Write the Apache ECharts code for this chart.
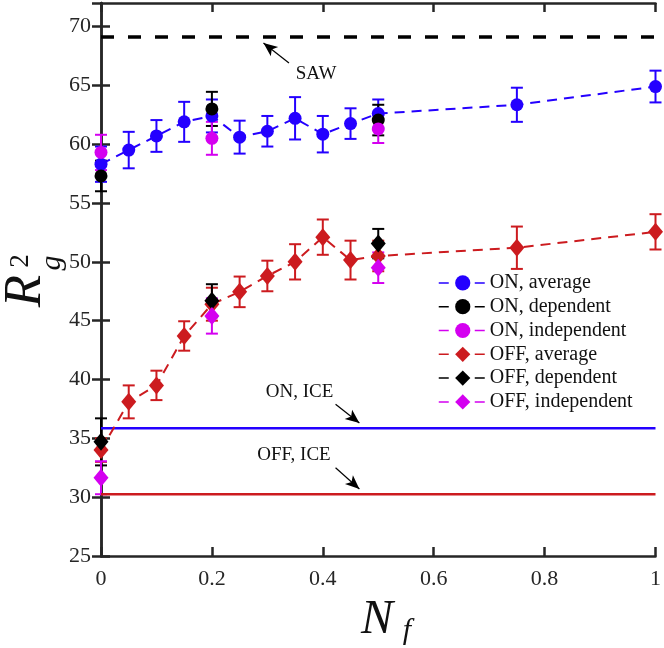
<!DOCTYPE html>
<html>
<head>
<meta charset="utf-8">
<script src="https://cdn.jsdelivr.net/npm/echarts@6/dist/echarts.min.js"></script>
<style>html,body{margin:0;padding:0;background:#fff}#c{width:664px;height:648px}</style>
</head>
<body>
<div id="c"></div>
<script>
// ---------- data ----------
const xAll = [0, 0.05, 0.1, 0.15, 0.2, 0.25, 0.3, 0.35, 0.4, 0.45, 0.5, 0.75, 1];
const xSub = [0, 0.2, 0.5];

const onAvg    = [58.3, 59.5, 60.7, 61.9, 62.4, 60.6, 61.1, 62.2, 60.85, 61.75, 62.6, 63.35, 64.9];
const onAvgErr = [1.5, 1.55, 1.35, 1.7, 1.4, 1.4, 1.3, 1.8, 1.55, 1.3, 1.2, 1.45, 1.35];
const onDep    = [57.3, 63.0, 62.05];
const onDepErr = [1.3, 1.45, 1.3];
const onInd    = [59.3, 60.5, 61.3];
const onIndErr = [1.5, 1.4, 1.2];

const offAvg    = [34.0, 38.1, 39.5, 43.7, 46.4, 47.45, 48.8, 50.0, 52.1, 50.15, 50.5, 51.2, 52.55];
const offAvgErr = [1.0, 1.4, 1.25, 1.25, 1.4, 1.3, 1.3, 1.5, 1.5, 1.65, 1.3, 1.8, 1.5];
const offDep    = [34.7, 46.7, 51.55];
const offDepErr = [2.0, 1.4, 1.25];
const offInd    = [31.65, 45.4, 49.5];
const offIndErr = [1.4, 1.5, 1.3];

const sawLevel = 69.1;
const onIceLevel = 35.85;
const offIceLevel = 30.24;

const xTicks = [0, 0.2, 0.4, 0.6, 0.8, 1];
const yTicks = [25, 30, 35, 40, 45, 50, 55, 60, 65, 70];

const annoText = ['SAW', 'ON, ICE', 'OFF, ICE'];
const annoTextAt = [[0.388, 66.0], [0.358, 38.95], [0.348, 33.6]];
const annoArrowFrom = [[0.339, 66.9], [0.423, 37.9], [0.423, 32.5]];
const annoArrowTo = [[0.293, 68.6], [0.466, 36.3], [0.466, 30.7]];

const seriesNames = ['ON, average', 'ON, dependent', 'ON, independent', 'OFF, average', 'OFF, dependent', 'OFF, independent'];

// ---------- styles ----------
const BLUE = '#2400ff', RED = '#cc1b1f', MAG = '#d400f0', BLK = '#000000';
const AX = '#262626';
const FONT = '"Liberation Serif", "DejaVu Serif", serif';

function zip3(xs, ys, es) { return xs.map((x, i) => [x, ys[i], es[i]]); }
function zip2(xs, ys) { return xs.map((x, i) => [x, ys[i]]); }

function errSeries(name, xs, ys, es, color) {
  return {
    type: 'custom', name: name + ' err', silent: true, clip: false,
    data: zip3(xs, ys, es), encode: { x: 0, y: 1 },
    renderItem: function (params, api) {
      const x = api.value(0), y = api.value(1), e = api.value(2);
      const t = api.coord([x, y + e]), b = api.coord([x, y - e]);
      const hw = 6;
      const st = { stroke: color, lineWidth: 2 };
      return {
        type: 'group', children: [
          { type: 'line', shape: { x1: t[0], y1: t[1], x2: b[0], y2: b[1] }, style: st },
          { type: 'line', shape: { x1: t[0] - hw, y1: t[1], x2: t[0] + hw, y2: t[1] }, style: st },
          { type: 'line', shape: { x1: b[0] - hw, y1: b[1], x2: b[0] + hw, y2: b[1] }, style: st }
        ]
      };
    }
  };
}

function markSeries(name, xs, ys, color, symbol, size, showLine) {
  return {
    type: 'line', name: name, clip: false, silent: true,
    data: zip2(xs, ys), symbol: symbol, symbolSize: size, showSymbol: true,
    itemStyle: { color: color, opacity: 1 },
    lineStyle: { color: color, width: 2, type: [10, 7], opacity: showLine ? 1 : 0 },
    emphasis: { disabled: true }
  };
}

function hLine(name, level, color, width, type) {
  return {
    type: 'line', name: name, silent: true, symbol: 'none',
    data: [[0, level], [1, level]],
    lineStyle: { color: color, width: width, type: type }
  };
}

const series = [];
series.push(hLine('SAW', sawLevel, BLK, 3.5, [13, 14]));
series.push(hLine('ON ICE', onIceLevel, BLUE, 2.5, 'solid'));
series.push(hLine('OFF ICE', offIceLevel, RED, 2.5, 'solid'));

series.push(errSeries(seriesNames[0], xAll, onAvg, onAvgErr, BLUE));
series.push(markSeries(seriesNames[0], xAll, onAvg, BLUE, 'circle', 13, true));
series.push(errSeries(seriesNames[1], xSub, onDep, onDepErr, BLK));
series.push(markSeries(seriesNames[1], xSub, onDep, BLK, 'circle', 13, false));
series.push(errSeries(seriesNames[2], xSub, onInd, onIndErr, MAG));
series.push(markSeries(seriesNames[2], xSub, onInd, MAG, 'circle', 13, false));
series.push(errSeries(seriesNames[3], xAll, offAvg, offAvgErr, RED));
series.push(markSeries(seriesNames[3], xAll, offAvg, RED, 'diamond', [15, 18], true));
series.push(errSeries(seriesNames[4], xSub, offDep, offDepErr, BLK));
series.push(markSeries(seriesNames[4], xSub, offDep, BLK, 'diamond', [15, 18], false));
series.push(errSeries(seriesNames[5], xSub, offInd, offIndErr, MAG));
series.push(markSeries(seriesNames[5], xSub, offInd, MAG, 'diamond', [15, 18], false));

series.push({
  type: 'line', name: 'anno', data: [], silent: true,
  markLine: {
    silent: true, animation: false, symbol: ['none', 'arrow'], symbolSize: [9, 14],
    label: { show: false },
    lineStyle: { color: BLK, width: 1.2, type: 'solid' },
    emphasis: { disabled: true },
    data: annoArrowFrom.map((f, i) => [{ coord: f }, { coord: annoArrowTo[i] }])
  },
  markPoint: {
    silent: true, animation: false, symbol: 'circle', symbolSize: 0,
    label: { show: true, position: 'inside', formatter: '{b}', color: '#111', fontFamily: FONT, fontSize: 19 },
    data: annoTextAt.map((c, i) => ({ name: annoText[i], coord: c }))
  }
});

const legendLineColors = [BLUE, BLK, MAG, RED, BLK, MAG];

const option = {
  animation: false,
  backgroundColor: '#fff',
  grid: { left: 101, right: 7, top: 3, bottom: 92 },
  xAxis: [
    {
      type: 'value', min: 0, max: 1, interval: 0.2, position: 'bottom',
      axisLine: { lineStyle: { color: AX, width: 2.5 } },
      axisTick: { inside: true, length: 9, lineStyle: { color: AX, width: 2.5 } },
      axisLabel: { color: '#262626', fontFamily: FONT, fontSize: 22, margin: 12,
        formatter: v => xTicks.includes(+v.toFixed(2)) ? String(+v.toFixed(2)) : '' },
      splitLine: { show: false }
    },
    {
      type: 'value', min: 0, max: 1, interval: 0.2, position: 'top',
      axisLine: { lineStyle: { color: AX, width: 2.5 } },
      axisTick: { inside: true, length: 9, lineStyle: { color: AX, width: 2.5 } },
      axisLabel: { show: false }, splitLine: { show: false }
    }
  ],
  yAxis: [
    {
      type: 'value', min: 25, max: 72, interval: 5, position: 'left',
      axisLine: { lineStyle: { color: AX, width: 2.5 } },
      axisTick: { inside: true, length: 9, lineStyle: { color: AX, width: 2.5 } },
      axisLabel: { color: '#262626', fontFamily: FONT, fontSize: 22, margin: 10, showMaxLabel: false,
        formatter: v => yTicks.includes(v) ? String(v) : '' },
      splitLine: { show: false }
    },
    {
      type: 'value', min: 25, max: 72, interval: 5, position: 'right',
      axisLine: { lineStyle: { color: AX, width: 2.5 } },
      axisTick: { inside: true, length: 9, lineStyle: { color: AX, width: 2.5 } },
      axisLabel: { show: false }, splitLine: { show: false }
    }
  ],
  legend: {
    orient: 'vertical', left: 438, top: 271,
    itemWidth: 48, itemHeight: 19, itemGap: 0, padding: 0,
    selectedMode: false,
    textStyle: { fontFamily: FONT, fontSize: 20, color: '#111', lineHeight: 23.8, padding: [0, 0, 0, -2] },
    data: seriesNames.map((n, i) => ({
      name: n,
      lineStyle: { color: legendLineColors[i], width: 1.5, type: [10, 8], opacity: 1 }
    }))
  },
  graphic: [
    { type: 'text', x: 26, y: 291, rotation: Math.PI / 2,
      style: { text: 'R', font: 'italic 53px ' + FONT, fill: '#111', align: 'center', verticalAlign: 'middle' } },
    { type: 'text', x: 21, y: 261, rotation: Math.PI / 2,
      style: { text: '2', font: '27px ' + FONT, fill: '#111', align: 'center', verticalAlign: 'middle' } },
    { type: 'text', x: 52, y: 263, rotation: Math.PI / 2,
      style: { text: 'g', font: 'italic 30px ' + FONT, fill: '#111', align: 'center', verticalAlign: 'middle' } },
    { type: 'text', x: 377, y: 620,
      style: { text: 'N', font: 'italic 48px ' + FONT, fill: '#111', align: 'center', verticalAlign: 'middle' } },
    { type: 'text', x: 407, y: 631,
      style: { text: 'f', font: 'italic 30px ' + FONT, fill: '#111', align: 'center', verticalAlign: 'middle' } }
  ],
  series: series
};

const chart = echarts.init(document.getElementById('c'), null, { renderer: 'canvas' });
chart.setOption(option);
</script>
</body>
</html>
